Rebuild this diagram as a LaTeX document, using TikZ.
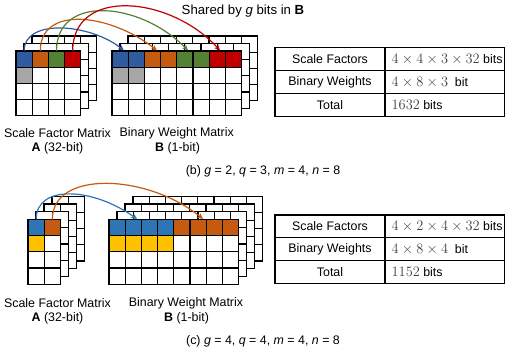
\documentclass[tikz,border=0pt]{standalone}
\usepackage[no-math]{fontspec}
\setmainfont{Liberation Sans}
\usetikzlibrary{arrows.meta,calc}
\definecolor{cblueA}{HTML}{2F5C9E}
\definecolor{cblueB}{HTML}{2E75B6}
\definecolor{corange}{HTML}{C55A11}
\definecolor{cgreen}{HTML}{548235}
\definecolor{cred}{HTML}{C00000}
\definecolor{cgray}{HTML}{A6A6A6}
\definecolor{cyellow}{HTML}{FFC000}
\def\cs{16.2}
\tikzset{
  gl/.style={line width=1.2pt,line cap=rect},
  tl/.style={line width=1.1pt},
  lbl/.style={inner sep=0pt,font=\fontsize{12.4}{14}\selectfont},
  hdr/.style={inner sep=0pt,font=\fontsize{13.2}{15}\selectfont},
  arr/.style={line width=1.2pt,-{Stealth[length=6pt,width=5.5pt]}},
}
\newcommand{\mylines}[4]{%
  \begin{scope}[shift={(#1,#2)}]
  \foreach \i in {0,...,#3} \draw[gl] (\i*\cs,0) -- (\i*\cs,-#4*\cs);
  \foreach \j in {0,...,#4} \draw[gl] (0,-\j*\cs) -- (#3*\cs,-\j*\cs);
  \end{scope}}
\newcommand{\mylayer}[4]{%
  \fill[white] (#1,#2) rectangle ++(#3*\cs,-#4*\cs);
  \mylines{#1}{#2}{#3}{#4}}
\newcommand{\mycell}[5]{%
  \fill[#5] ($(#1,#2)+(#3*\cs,-#4*\cs)$) rectangle ++(\cs,-\cs);}
\newcommand{\mth}[1]{\textcolor{black!75}{\fontsize{13.4}{15}\selectfont$#1$}}
\begin{document}
\begin{tikzpicture}[x=1pt,y=1pt]
\useasboundingbox (0,0) rectangle (506,350);
% ---------------- top (b) ----------------
\mylayer{32}{314}{4}{4}
\mylayer{24}{306.5}{4}{4}
\mylayer{16}{299}{4}{4}
\mycell{16}{299}{0}{0}{cblueA}
\mycell{16}{299}{1}{0}{corange}
\mycell{16}{299}{2}{0}{cgreen}
\mycell{16}{299}{3}{0}{cred}
\mycell{16}{299}{0}{1}{cgray}
\mylines{16}{299}{4}{4}
\mylayer{128}{314}{8}{4}
\mylayer{120}{306.5}{8}{4}
\mylayer{112}{299}{8}{4}
\mycell{112}{299}{0}{0}{cblueA}
\mycell{112}{299}{1}{0}{cblueA}
\mycell{112}{299}{2}{0}{corange}
\mycell{112}{299}{3}{0}{corange}
\mycell{112}{299}{4}{0}{cgreen}
\mycell{112}{299}{5}{0}{cgreen}
\mycell{112}{299}{6}{0}{cred}
\mycell{112}{299}{7}{0}{cred}
\mycell{112}{299}{0}{1}{cgray}
\mycell{112}{299}{1}{1}{cgray}
\mylines{112}{299}{8}{4}
\coordinate (a1) at (24.1,299);
\coordinate (a2) at (40.3,299);
\coordinate (a3) at (56.5,299);
\coordinate (a4) at (72.7,299);
\coordinate (b1) at (124,299.5);
\coordinate (b2) at (157,299.5);
\coordinate (b3) at (188,299.5);
\coordinate (b4) at (220,299.5);
\draw[arr,cblueA] (a1) .. controls ($(a1)+(0,33)$) and ($(b1)+(-34,27)$) .. (b1);
\draw[arr,corange] (a2) .. controls ($(a2)+(0,46)$) and ($(b2)+(-47,37)$) .. (b2);
\draw[arr,cgreen] (a3) .. controls ($(a3)+(0,57)$) and ($(b3)+(-48,49)$) .. (b3);
\draw[arr,cred] (a4) .. controls ($(a4)+(0,64)$) and ($(b4)+(-50,55)$) .. (b4);
\node[hdr] (shared) at (243,339.3) {Shared by \textit{g} bits in \textbf{B}};
\node[lbl] (sfm1) at (57.5,217) {Scale Factor Matrix};
\node[lbl] (a32a) at (57.5,202) {\textbf{A} (32-bit)};
\node[lbl] (bwm1) at (176.7,217) {Binary Weight Matrix};
\node[lbl] (b1bit1) at (177.5,202) {\textbf{B} (1-bit)};
\node[lbl] (capb) at (263,178.3) {(b) \textit{g} = 2, \textit{q} = 3, \textit{m} = 4, \textit{n} = 8};
% table top
\draw[tl] (275,302.3) rectangle (504.5,233.3);
\draw[tl] (275,279.3) -- (504.5,279.3);
\draw[tl] (275,256.7) -- (504.5,256.7);
\draw[tl] (385,302.3) -- (385,233.3);
\node[lbl] (t1a) at (330,290.8) {Scale Factors};
\node[lbl] (t1b) at (330,268) {Binary Weights};
\node[lbl] (t1c) at (330,245) {Total};
\node[lbl,anchor=west] (t1d) at (391.5,290.8) {\mth{4\times4\times3\times32} bits};
\node[lbl,anchor=west] (t1e) at (391.5,268) {\mth{4\times8\times3}\ \ bit};
\node[lbl,anchor=west] (t1f) at (391.5,245) {\mth{1632} bits};
% ---------------- bottom (c) ----------------
\mylayer{52}{153.7}{2}{4}
\mylayer{44}{146}{2}{4}
\mylayer{36}{138.3}{2}{4}
\mylayer{28}{130.5}{2}{4}
\mycell{28}{130.5}{0}{0}{cblueB}
\mycell{28}{130.5}{1}{0}{corange}
\mycell{28}{130.5}{0}{1}{cyellow}
\mylines{28}{130.5}{2}{4}
\mylayer{133}{153.7}{8}{4}
\mylayer{125}{146}{8}{4}
\mylayer{117}{138.3}{8}{4}
\mylayer{109}{130.5}{8}{4}
\foreach \k in {0,1,2,3} {\mycell{109}{130.5}{\k}{0}{cblueB}}
\foreach \k in {4,5,6,7} {\mycell{109}{130.5}{\k}{0}{corange}}
\foreach \k in {0,1,2,3} {\mycell{109}{130.5}{\k}{1}{cyellow}}
\mylines{109}{130.5}{8}{4}
\coordinate (c1) at (36.1,130.5);
\coordinate (c2) at (52.3,130.5);
\coordinate (d1) at (137,131);
\coordinate (d2) at (203,131);
\draw[arr,cblueB] (c1) .. controls ($(c1)+(0,35)$) and ($(d1)+(-45,32)$) .. (d1);
\draw[arr,corange] (c2) .. controls ($(c2)+(0,50)$) and ($(d2)+(-55,45)$) .. (d2);
\node[lbl] (sfm2) at (57.5,47) {Scale Factor Matrix};
\node[lbl] (a32b) at (57.5,32) {\textbf{A} (32-bit)};
\node[lbl] (bwm2) at (186,47) {Binary Weight Matrix};
\node[lbl] (b1bit2) at (186.5,32) {\textbf{B} (1-bit)};
\node[lbl] (capc) at (263,8.3) {(c) \textit{g} = 4, \textit{q} = 4, \textit{m} = 4, \textit{n} = 8};
% table bottom
\draw[tl] (275,135) rectangle (504.5,66.7);
\draw[tl] (275,112.3) -- (504.5,112.3);
\draw[tl] (275,89.3) -- (504.5,89.3);
\draw[tl] (385,135) -- (385,66.7);
\node[lbl] (t2a) at (330,123.6) {Scale Factors};
\node[lbl] (t2b) at (330,100.8) {Binary Weights};
\node[lbl] (t2c) at (330,78) {Total};
\node[lbl,anchor=west] (t2d) at (391.5,123.6) {\mth{4\times2\times4\times32} bits};
\node[lbl,anchor=west] (t2e) at (391.5,100.8) {\mth{4\times8\times4}\ \ bit};
\node[lbl,anchor=west] (t2f) at (391.5,78) {\mth{1152} bits};
\end{tikzpicture}
\end{document}
